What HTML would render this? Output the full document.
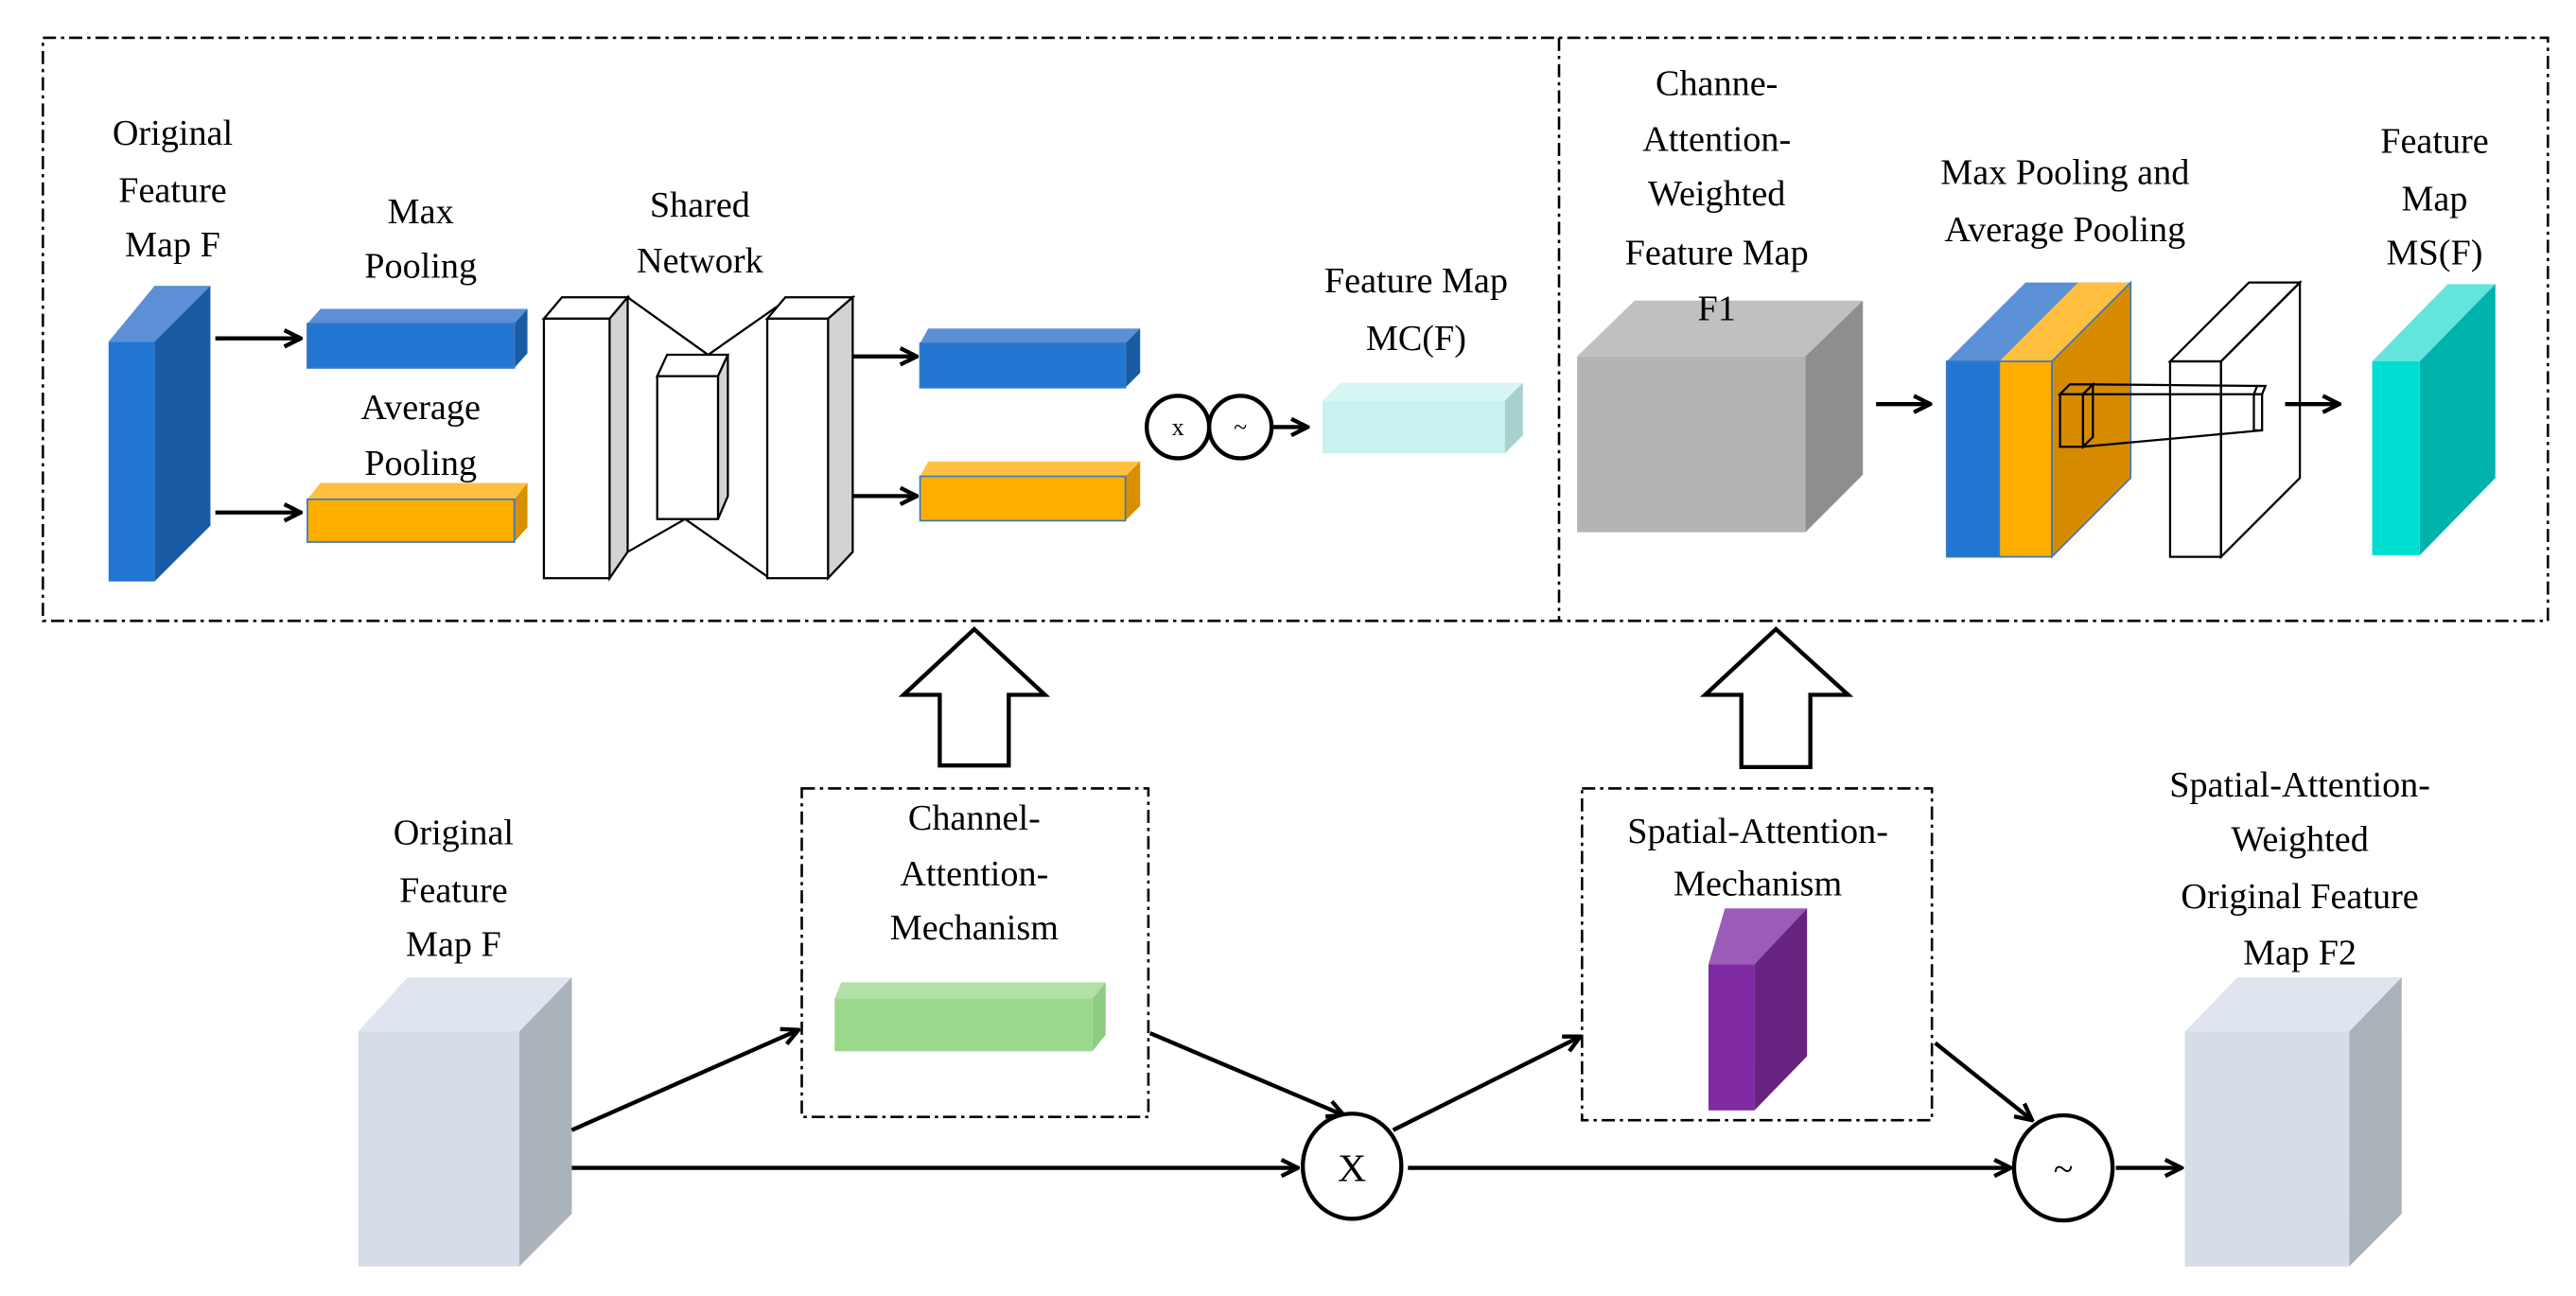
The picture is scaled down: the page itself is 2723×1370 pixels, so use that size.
<!DOCTYPE html>
<html><head><meta charset="utf-8"><style>html,body{margin:0;padding:0;background:#fff}svg{display:block}text{font-family:"Liberation Serif",serif;font-size:22px}</style></head>
<body>
<svg width="2723" height="1370" viewBox="0 0 1568 789" xmlns="http://www.w3.org/2000/svg" text-anchor="middle">
<defs>
<marker id="ar" viewBox="0 0 10 10" refX="9" refY="5" markerWidth="5" markerHeight="5" orient="auto"><path d="M1,1 L9,5 L1,9" fill="none" stroke="#000" stroke-width="2"/></marker>
</defs>
<g fill="none" stroke="#000" stroke-width="1.5" stroke-dasharray="8,3,2,3">
<rect x="26" y="23" width="1525" height="355"/>
<line x1="949" y1="23" x2="949" y2="378"/>
<rect x="488" y="480" width="211" height="200"/>
<rect x="963" y="480" width="213" height="202"/>
</g>
<text x="105" y="88">Original</text><text x="105" y="123">Feature</text><text x="105" y="156">Map F</text>
<text x="256" y="136">Max</text><text x="256" y="169">Pooling</text>
<text x="256" y="255">Average</text><text x="256" y="289">Pooling</text>
<text x="426" y="132">Shared</text><text x="426" y="166">Network</text>
<text x="862" y="178">Feature Map</text><text x="862" y="213">MC(F)</text>
<polygon points="66,208 94,174 128,174 94,208" fill="#5b8fd6"/>
<polygon points="94,208 128,174 128,320 94,354" fill="#1a5ca3"/>
<rect x="66" y="208" width="28" height="146" fill="#2176d2"/>
<g stroke="#000" stroke-width="2.5" fill="none" marker-end="url(#ar)">
<line x1="131" y1="206" x2="183" y2="206"/><line x1="131" y1="312" x2="183" y2="312"/>
<line x1="518" y1="217" x2="558" y2="217"/><line x1="518" y1="302" x2="558" y2="302"/>
<line x1="775" y1="260" x2="796" y2="260"/>
<line x1="1142" y1="246" x2="1175" y2="246"/><line x1="1391" y1="246" x2="1424" y2="246"/>
</g>
<polygon points="187,197 195,188 321,188 313,197" fill="#5b8fd6"/><polygon points="313,197 321,188 321,215 313,224" fill="#1a5ca3"/>
<rect x="187" y="197" width="126" height="27" fill="#2176d2" stroke="#3c78c8" stroke-width="1"/>
<polygon points="187,304 195,294 321,294 313,304" fill="#ffc040"/><polygon points="313,304 321,294 321,321 313,330" fill="#d89000"/>
<rect x="187" y="304" width="126" height="26" fill="#ffae00" stroke="#3c78c8" stroke-width="1"/>
<g stroke="#000" stroke-width="1.3">
<polyline points="382,181 431,216 481,181" fill="none"/>
<polyline points="382,336 417,316 467,351" fill="none"/>
<polygon points="331,194 342,181 382,181 371,194" fill="#fff"/><polygon points="371,194 382,181 382,336 371,352" fill="#d3d3d3"/><rect x="331" y="194" width="40" height="158" fill="#fff"/>
<polygon points="400,229 406,216 443,216 437,229" fill="#fff"/><polygon points="437,229 443,216 443,302 437,316" fill="#d3d3d3"/><rect x="400" y="229" width="37" height="87" fill="#fff"/>
<polygon points="467,194 478,181 519,181 504,194" fill="#fff"/><polygon points="504,194 519,181 519,336 504,352" fill="#d3d3d3"/><rect x="467" y="194" width="37" height="158" fill="#fff"/>
</g>
<polygon points="560,209 565,200 694,200 685,209" fill="#5b8fd6"/><polygon points="685,209 694,200 694,227 685,236" fill="#1a5ca3"/>
<rect x="560" y="209" width="125" height="27" fill="#2176d2" stroke="#3c78c8" stroke-width="1"/>
<polygon points="560,290 565,281 694,281 685,290" fill="#ffc040"/><polygon points="685,290 694,281 694,308 685,317" fill="#d89000"/>
<rect x="560" y="290" width="125" height="27" fill="#ffae00" stroke="#3c78c8" stroke-width="1"/>
<g fill="#fff" stroke="#000" stroke-width="2.5"><circle cx="717" cy="260" r="19"/><circle cx="755" cy="260" r="19"/></g>
<text x="717" y="265" style="font-size:15px">x</text><text x="755" y="265" style="font-size:15px">~</text>
<polygon points="805,244 816,233 927,233 916,244" fill="#d8f6f4"/><polygon points="916,244 927,233 927,265 916,276" fill="#a8d0cc"/>
<rect x="805" y="244" width="111" height="32" fill="#c8f2ef"/>
<polygon points="960,217 995,183 1134,183 1099,217" fill="#c0c0c0"/><polygon points="1099,217 1134,183 1134,289 1099,324" fill="#8e8e8e"/>
<rect x="960" y="217" width="139" height="107" fill="#b4b4b4"/>
<text x="1045" y="58">Channe-</text><text x="1045" y="92">Attention-</text><text x="1045" y="125">Weighted</text><text x="1045" y="161">Feature Map</text><text x="1045" y="195">F1</text>
<text x="1257" y="112">Max Pooling and</text><text x="1257" y="147">Average Pooling</text>
<text x="1482" y="93">Feature</text><text x="1482" y="128">Map</text><text x="1482" y="161">MS(F)</text>
<polygon points="1185,220 1233,172 1297,172 1249,220" fill="#5b8fd6"/>
<polygon points="1217,220 1265,172 1297,172 1249,220" fill="#ffc040"/>
<polygon points="1249,220 1297,172 1297,291 1249,339" fill="#d68a00" stroke="#3c78c8"/>
<rect x="1185" y="220" width="32" height="119" fill="#2176d2" stroke="#3c78c8"/>
<rect x="1217" y="220" width="32" height="119" fill="#ffae00" stroke="#3c78c8"/>
<g fill="none" stroke="#000" stroke-width="1.3">
<polygon points="1321,220 1369,172 1400,172 1352,220"/>
<polygon points="1352,220 1400,172 1400,291 1352,339"/>
<rect x="1321" y="220" width="31" height="119"/>
<rect x="1254" y="240" width="14" height="32"/><polygon points="1254,240 1260,234 1274,234 1268,240"/><polygon points="1268,240 1274,234 1274,266 1268,272"/>
<line x1="1274" y1="234" x2="1377" y2="235"/><line x1="1268" y1="240" x2="1372" y2="240"/><line x1="1268" y1="272" x2="1377" y2="262"/>
<rect x="1372" y="240" width="5" height="22"/><polygon points="1372,240 1374,235 1379,235 1377,240"/>
</g>
<polygon points="1444,220 1490,173 1519,173 1473,220" fill="#62e6dc"/><polygon points="1473,220 1519,173 1519,291 1473,338" fill="#00b2ac"/>
<rect x="1444" y="220" width="29" height="118" fill="#00ded2"/>
<g fill="#fff" stroke="#000" stroke-width="2.5">
<polygon points="593,383 636,423 614,423 614,466 572,466 572,423 550,423"/>
<polygon points="1081,383 1125,423 1102,423 1102,467 1060,467 1060,423 1038,423"/>
</g>
<text x="276" y="514">Original</text><text x="276" y="549">Feature</text><text x="276" y="582">Map F</text>
<text x="593" y="505">Channel-</text><text x="593" y="539">Attention-</text><text x="593" y="572">Mechanism</text>
<text x="1070" y="513">Spatial-Attention-</text><text x="1070" y="545">Mechanism</text>
<text x="1400" y="485">Spatial-Attention-</text><text x="1400" y="518">Weighted</text><text x="1400" y="553">Original Feature</text><text x="1400" y="587">Map F2</text>
<polygon points="218,628 248,595 348,595 316,628" fill="#dfe5ee"/><polygon points="316,628 348,595 348,739 316,771" fill="#aab2ba"/>
<rect x="218" y="628" width="98" height="143" fill="#d6dde8"/>
<polygon points="1330,628 1362,595 1462,595 1430,628" fill="#dfe5ee"/><polygon points="1430,628 1462,595 1462,739 1430,771" fill="#aab2ba"/>
<rect x="1330" y="628" width="100" height="143" fill="#d6dde8"/>
<polygon points="508,608 512,598 673,598 665,608" fill="#b2e0a6"/><polygon points="665,608 673,598 673,630 665,640" fill="#8ecc82"/>
<rect x="508" y="608" width="157" height="32" fill="#9ad98c"/>
<polygon points="1040,587 1050,553 1100,553 1068,587" fill="#9b5cb8"/><polygon points="1068,587 1100,553 1100,643 1068,676" fill="#682380"/>
<rect x="1040" y="587" width="28" height="89" fill="#7f2aa0"/>
<g stroke="#000" stroke-width="2.5" fill="none" marker-end="url(#ar)">
<line x1="348" y1="688" x2="486" y2="627"/>
<line x1="348" y1="711" x2="790" y2="711"/>
<line x1="700" y1="629" x2="818" y2="679"/>
<line x1="848" y1="688" x2="962" y2="631"/>
<line x1="857" y1="711" x2="1224" y2="711"/>
<line x1="1178" y1="635" x2="1237" y2="682"/>
<line x1="1288" y1="711" x2="1328" y2="711"/>
</g>
<g fill="#fff" stroke="#000" stroke-width="2.5"><ellipse cx="823" cy="710" rx="30" ry="32"/><ellipse cx="1256" cy="711" rx="30" ry="32"/></g>
<text x="823" y="719" style="font-size:24px">X</text><text x="1256" y="719">~</text>
</svg>
</body></html>
